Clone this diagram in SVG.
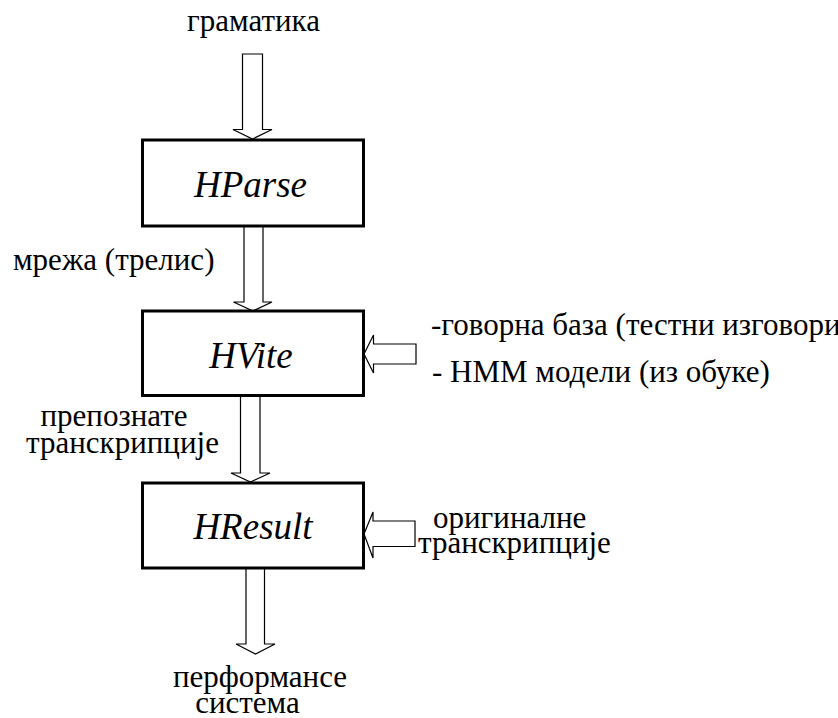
<svg xmlns="http://www.w3.org/2000/svg" width="838" height="718" viewBox="0 0 838 718">
<rect width="838" height="718" fill="#fff"/>
<g id="connectors" fill="#fff" stroke="#000" stroke-width="1.2" stroke-linejoin="miter">
<polygon points="242.5,54 262.5,54 262.5,129.5 272,129.5 252.5,139 233,129.5 242.5,129.5"/>
<polygon points="244,226 263,226 263,302 272,302 253,311 233.5,302 244,302"/>
<polygon points="240.5,395 260,395 260,473 270,473 250.5,482 231,473 240.5,473"/>
<polygon points="246,568 264.5,568 264.5,644 275,644 255.5,654 236,644 246,644"/>
<polygon points="416,344 373.5,344 373.5,335 364,354 373.5,373 373.5,364 416,364"/>
<polygon points="415,521 373,521 373,512 364,534 373,558 373,546.5 415,546.5"/>
</g>
<g id="n-hparse">
<rect x="142.5" y="140" width="221" height="86" fill="#fff" stroke="#000" stroke-width="3"/>
<text x="250.5" y="197" font-size="37" font-family="Liberation Serif" font-style="italic" text-anchor="middle">HParse</text>
</g>
<g id="n-hvite">
<rect x="142.5" y="311" width="221" height="84.5" fill="#fff" stroke="#000" stroke-width="3"/>
<text x="251" y="368" font-size="37" font-family="Liberation Serif" font-style="italic" text-anchor="middle">HVite</text>
</g>
<g id="n-hresult">
<rect x="142.5" y="483" width="221" height="85" fill="#fff" stroke="#000" stroke-width="3"/>
<text x="253" y="539" font-size="37" font-family="Liberation Serif" font-style="italic" text-anchor="middle">HResult</text>
</g>
<text x="253.5" y="31" font-size="31" font-family="Liberation Serif" text-anchor="middle">граматика</text>
<text x="13" y="270" font-size="31" font-family="Liberation Serif">мрежа (трелис)</text>
<text x="431" y="335" font-size="31" font-family="Liberation Serif">-говорна база (тестни изговори)</text>
<text x="432" y="382" font-size="31" font-family="Liberation Serif">- НММ модели (из обуке)</text>
<text x="114" y="426" font-size="31" font-family="Liberation Serif" text-anchor="middle">препознате</text>
<text x="122.5" y="453" font-size="31" font-family="Liberation Serif" text-anchor="middle">транскрипције</text>
<text x="433" y="528" font-size="31" font-family="Liberation Serif">оригиналне</text>
<text x="418" y="553" font-size="31" font-family="Liberation Serif">транскрипције</text>
<text x="260" y="687" font-size="31" font-family="Liberation Serif" text-anchor="middle">перформансе</text>
<text x="247.5" y="713" font-size="31" font-family="Liberation Serif" text-anchor="middle">система</text>
</svg>
